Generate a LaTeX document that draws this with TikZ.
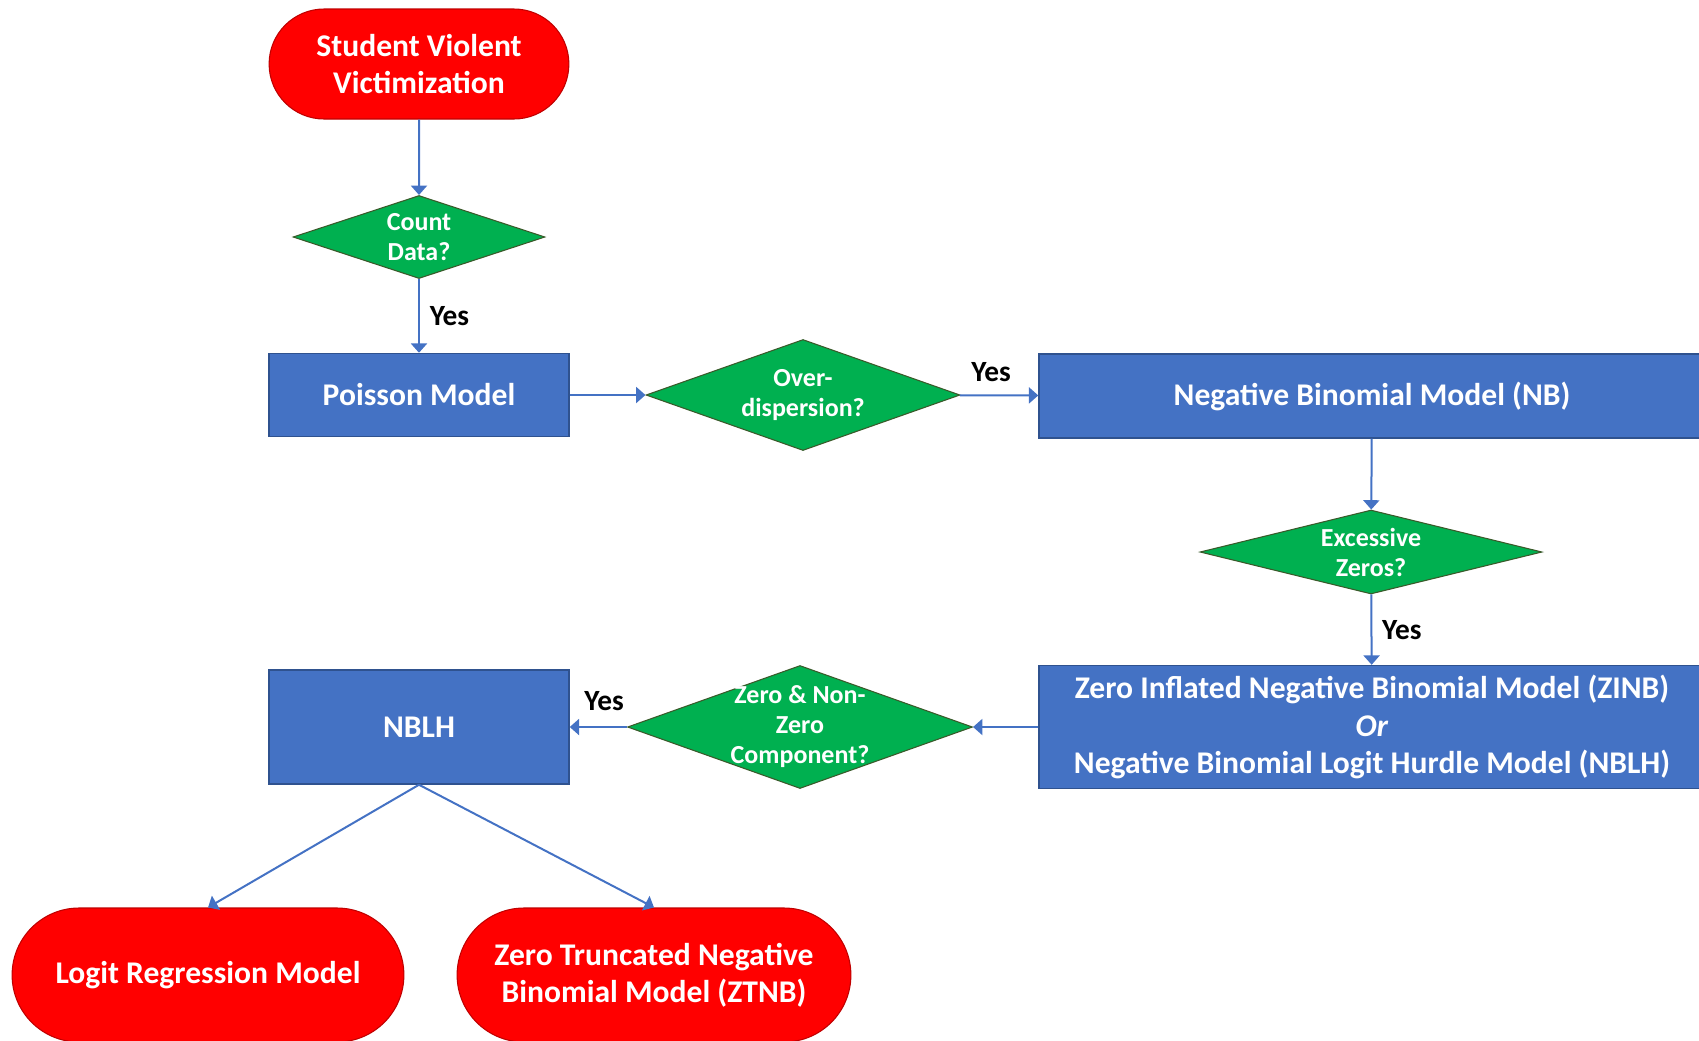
\documentclass[tikz,border=0pt]{standalone}
\usepackage{fontspec}
\setmainfont{Carlito}
\usetikzlibrary{shapes.geometric,shapes.misc,arrows.meta}

\definecolor{termred}{HTML}{FF0000}
\definecolor{termedge}{HTML}{C00000}
\definecolor{modelblue}{HTML}{4472C4}
\definecolor{modeledge}{HTML}{2F528F}
\definecolor{decgreen}{HTML}{00B050}
\definecolor{decedge}{HTML}{3A5A2A}
\definecolor{flowblue}{HTML}{4472C4}

\newcommand{\boxfont}{\fontsize{23.7pt}{27.8pt}\selectfont\bfseries}
\newcommand{\decfont}{\fontsize{19.5pt}{22.5pt}\selectfont\bfseries}
\newcommand{\yesfont}{\fontsize{22pt}{26pt}\selectfont\bfseries}

\begin{document}
\begin{tikzpicture}[x=0.75pt,y=-0.75pt,
    terminal/.style={rounded rectangle, draw=termedge, fill=termred, line width=0.8pt,
      text=white, font=\boxfont, align=center},
    model/.style={rectangle, draw=modeledge, fill=modelblue, line width=1.1pt,
      text=white, font=\boxfont, align=center},
    decision/.style={diamond, draw=decedge, fill=decgreen, line width=0.8pt,
      text=white, font=\decfont, align=center, inner sep=0pt},
    flow/.style={draw=flowblue, line width=1.5pt, -{Triangle[length=7pt,width=12pt]}},
    yes/.style={font=\yesfont, text=black}]

    % Page
    \clip (0,0) rectangle (1699,1040);

    % Start
    \node[terminal, minimum width=231.5pt, minimum height=82.5pt] (start) at (419,64)
      {Student Violent\\Victimization};

    % Count data
    \node[decision, shape aspect=3.04, minimum width=189pt, minimum height=62.25pt] (count) at (419,237)
      {Count\\Data?};
    \node[model, minimum width=225pt, minimum height=62.25pt] (poisson) at (419,395)
      {Poisson Model};

    % Over-dispersion
    \node[decision, shape aspect=2.83, minimum width=235.5pt, minimum height=83.25pt] (over) at (803,395)
      {Over-\\dispersion?};
    \node[model, minimum width=499.5pt, minimum height=63pt] (nb) at (1372,396)
      {Negative Binomial Model (NB)};

    % Excessive zeros
    \node[decision, shape aspect=4.07, minimum width=256.5pt, minimum height=63pt] (excess) at (1371,552)
      {Excessive\\Zeros?};
    \node[model, minimum width=499.5pt, minimum height=92.25pt] (zinb) at (1372,727)
      {Zero Inflated Negative Binomial Model (ZINB)\\\textit{Or}\\Negative Binomial Logit Hurdle Model (NBLH)};

    % Zero and non-zero
    \node[decision, shape aspect=2.8, inner sep=-3pt, minimum width=258.75pt, minimum height=92.25pt] (zero) at (800,727)
      {Zero \& Non-\\Zero\\Component?};
    \node[model, minimum width=225pt, minimum height=85.5pt] (nblh) at (419,727)
      {NBLH};

    % End models
    \node[terminal, minimum width=300.5pt, minimum height=100.5pt] (logit) at (208,975)
      {Logit Regression Model};
    \node[terminal, minimum width=302pt, minimum height=100.5pt] (ztnb) at (654,975)
      {Zero Truncated Negative\\Binomial Model (ZTNB)};

    % Flow
    \draw[flow] (start) -- (count);
    \draw[flow] (count) -- node[yes, right=4pt] {Yes} (poisson);
    \draw[flow] (poisson) -- (over);
    \draw[flow] (over) -- node[yes, above=6pt, pos=0.4] {Yes} (nb);
    \draw[flow] (nb) -- (excess);
    \draw[flow] (excess) -- node[yes, right=4pt] {Yes} (zinb);
    \draw[flow] (zinb) -- (zero);
    \draw[flow] (zero) -- node[yes, above=8pt, pos=0.4] {Yes} (nblh);
    \draw[flow] (nblh.south) -- (logit.north);
    \draw[flow] (nblh.south) -- (ztnb.north);
\end{tikzpicture}
\end{document}
